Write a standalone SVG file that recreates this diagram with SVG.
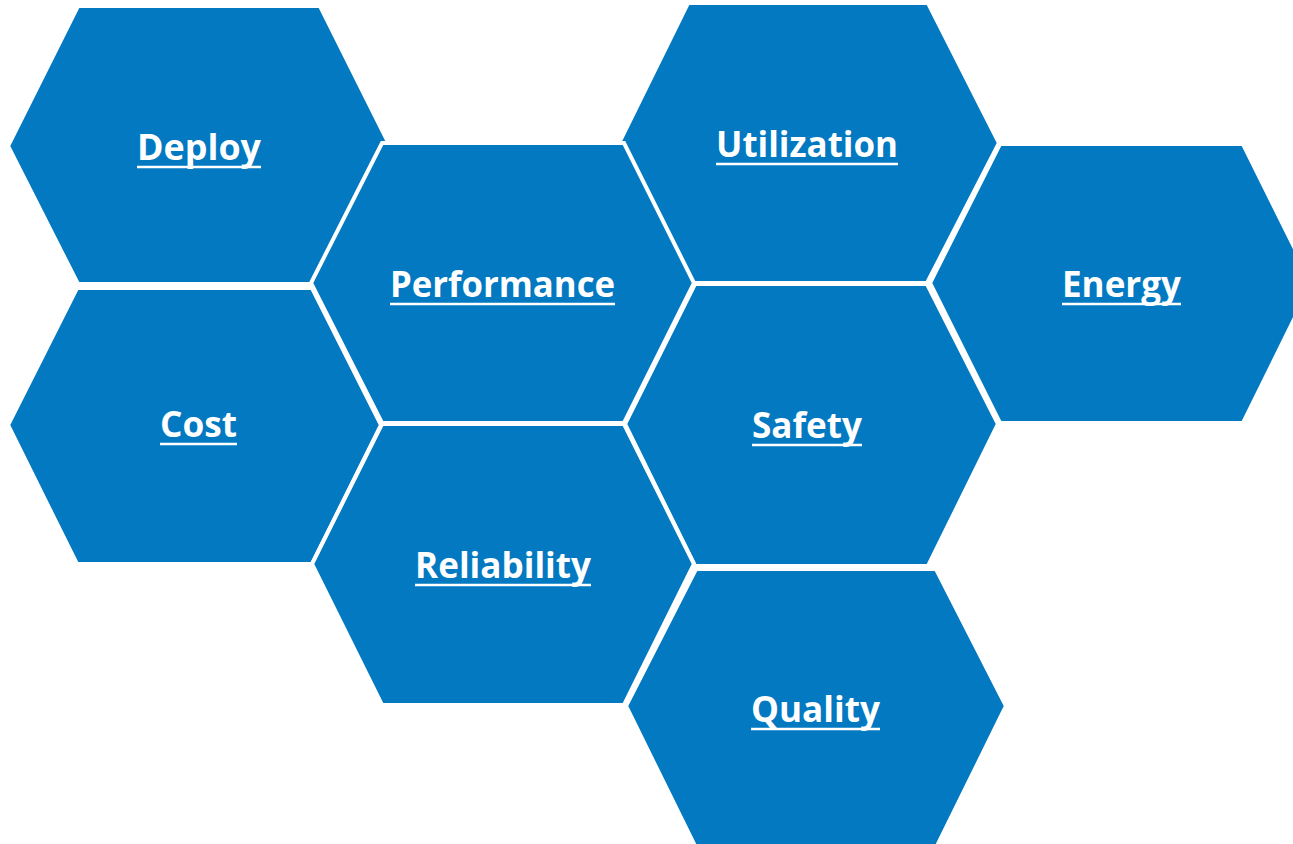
<svg xmlns="http://www.w3.org/2000/svg" width="1293" height="844" viewBox="0 0 1293 844">
<style>
.hex{fill:#0279c1;stroke:#ffffff;stroke-width:4;stroke-linejoin:miter}
.lbl{font-family:"Open Sans","Noto Sans",sans-serif;font-weight:bold;font-size:35px;fill:#ffffff;text-anchor:middle}
.ul{stroke:#ffffff;stroke-width:2.5}
</style>
<rect width="1293" height="844" fill="#ffffff"/>
<g id="connectors"></g>
<g id="deploy">
<polygon class="hex" points="78,6 320,6 390,146 320,284 78,284 8,146"/>
<text class="lbl" x="199" y="160" textLength="124" lengthAdjust="spacingAndGlyphs">Deploy</text>
<line class="ul" x1="137" y1="167" x2="261" y2="167"/>
</g>
<g id="cost">
<polygon class="hex" points="77,288 312,288 381,425 312,564 77,564 8,425"/>
<text class="lbl" x="198.5" y="437" textLength="77" lengthAdjust="spacingAndGlyphs">Cost</text>
<line class="ul" x1="160" y1="444" x2="237" y2="444"/>
</g>
<g id="utilization">
<polygon class="hex" points="688,3 928,3 999,143 927,283 689,283 619,143"/>
<text class="lbl" x="807" y="157" textLength="182" lengthAdjust="spacingAndGlyphs">Utilization</text>
<line class="ul" x1="716" y1="164" x2="898" y2="164"/>
</g>
<g id="energy">
<polygon class="hex" points="1000,144 1243,144 1312,283 1243,423 1000,423 930,283"/>
<text class="lbl" x="1121.5" y="297" textLength="119" lengthAdjust="spacingAndGlyphs">Energy</text>
<line class="ul" x1="1062" y1="304" x2="1181" y2="304"/>
</g>
<g id="safety">
<polygon class="hex" points="695,284 927,284 998,424 928,566 695,566 625,424"/>
<text class="lbl" x="807" y="438" textLength="110" lengthAdjust="spacingAndGlyphs">Safety</text>
<line class="ul" x1="752" y1="445" x2="862" y2="445"/>
</g>
<g id="quality">
<polygon class="hex" points="696,569 936,569 1006,706 936,848 696,848 626,706"/>
<text class="lbl" x="815.5" y="722" textLength="129" lengthAdjust="spacingAndGlyphs">Quality</text>
<line class="ul" x1="751" y1="729" x2="880" y2="729"/>
</g>
<g id="performance">
<polygon class="hex" points="382,143 624,143 694,283 624,423 382,423 311,283"/>
<text class="lbl" x="502.5" y="297" textLength="225" lengthAdjust="spacingAndGlyphs">Performance</text>
<line class="ul" x1="390" y1="304" x2="615" y2="304"/>
</g>
<g id="reliability">
<polygon class="hex" points="382,424 624,424 694,564 624,705 382,705 312,564"/>
<text class="lbl" x="503" y="578" textLength="176" lengthAdjust="spacingAndGlyphs">Reliability</text>
<line class="ul" x1="415" y1="585" x2="591" y2="585"/>
</g>
</svg>
